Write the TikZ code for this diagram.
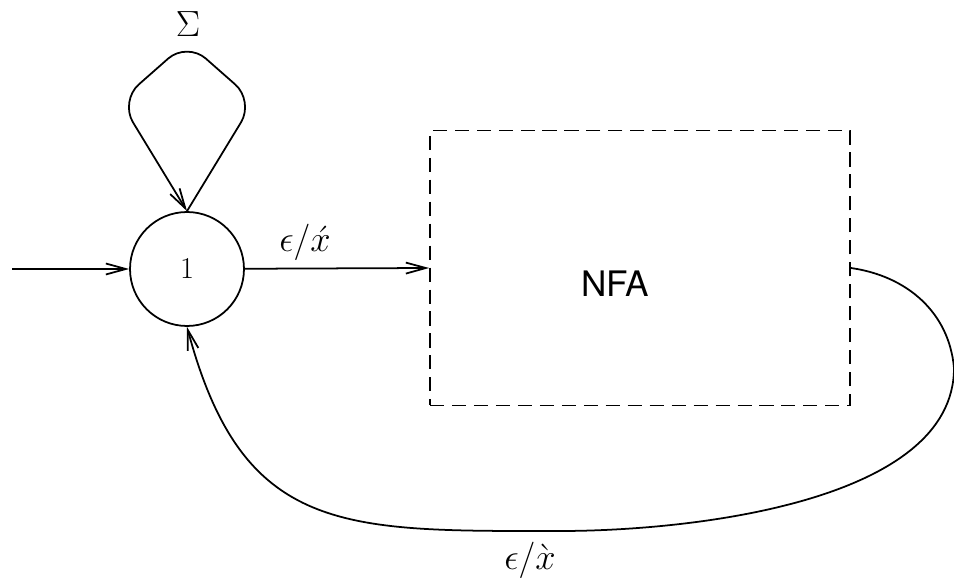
\documentclass[tikz,border=0pt]{standalone}
\usepackage{fontspec}
\newfontfamily\helvfont{TeX Gyre Heros}
\usetikzlibrary{arrows.meta}

\begin{document}
\begin{tikzpicture}[
    x=0.02cm,y=0.02cm,
    every node/.style={font=\fontsize{20.74}{24}\selectfont},
    state/.style={circle,draw,line width=1pt,minimum size=2.28cm,inner sep=0pt,font=\fontsize{17.28}{20}\selectfont},
    dbox/.style={rectangle,draw,line width=1pt,dash pattern=on 8pt off 4.5pt,minimum width=8.4cm,minimum height=5.5cm},
    arr/.style={-{Straight Barb[length=4mm,width=2.2mm]},line width=1pt}
  ]
    \useasboundingbox (0,0) rectangle (954,585);
    \node[state] (one) at (187,316) {$1$};
    \node[dbox] (nfa) at (640,317) {};
    \node[font=\helvfont\fontsize{20}{24}\selectfont] (nfatext) at (615,301) {NFA};
    \coordinate (start) at (12,316);
    \node (sigma) at (188,561) {$\Sigma$};
    \node (lblin) at (305,343) {$\epsilon/\acute{x}$};
    \node (lblback) at (530,25) {$\epsilon/\grave{x}$};
    \draw[arr] (start) -- (one);
    \draw[arr] (one) -- (nfa.west);
    % self loop over state 1
    \draw[arr,rounded corners=0.5cm] (one.north) -- (254,484) -- (187,543) -- (120,484) -- (one.north);
    % return path from NFA
    \draw[arr] (nfa.east) to[out=-8,in=95] (954,217) to[out=-90,in=0,looseness=0.8] (560,54)
      to[out=180,in=-75,looseness=1.3] (one.south);
\end{tikzpicture}
\end{document}
